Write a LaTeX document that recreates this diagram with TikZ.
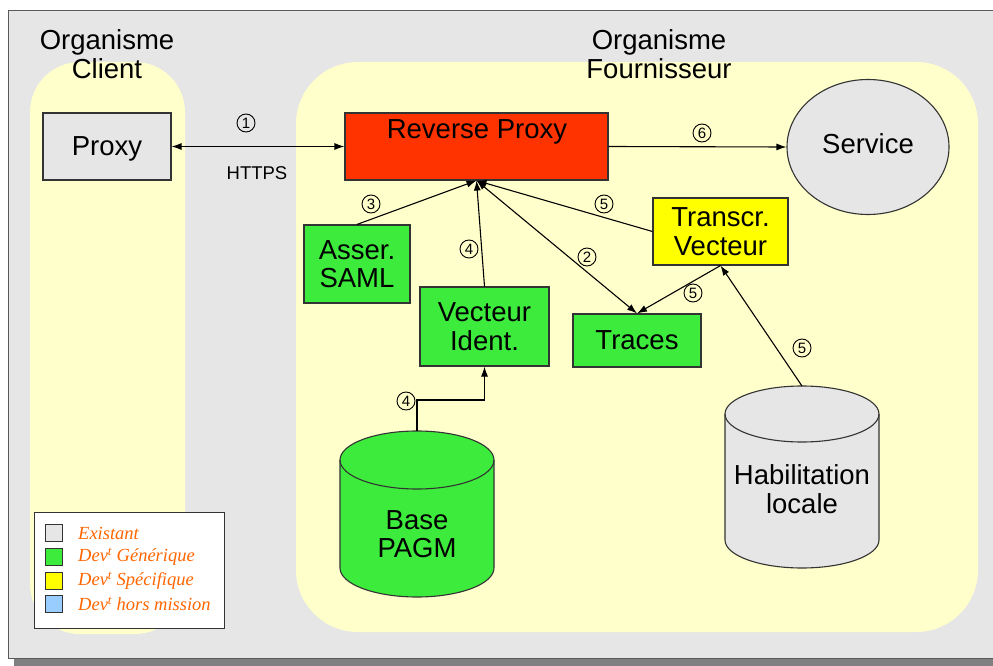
\documentclass[tikz,border=0pt]{standalone}
\usepackage{fontspec}
\setmainfont{Liberation Sans}
\newfontfamily\legfont{Liberation Serif}
\usetikzlibrary{arrows.meta,shapes.geometric}

\definecolor{framegray}{HTML}{E6E6E6}
\definecolor{shadowgray}{HTML}{808080}
\definecolor{zone}{HTML}{FFFFCC}
\definecolor{rpred}{HTML}{FF3300}
\definecolor{devgreen}{HTML}{3DEB3D}
\definecolor{devyellow}{HTML}{FFFF00}
\definecolor{devblue}{HTML}{99CCFF}
\definecolor{legorange}{HTML}{FF6600}
\definecolor{edge}{HTML}{333333}

\tikzset{
  bigtext/.style={font=\fontsize{27.5}{28.5}\selectfont, align=center},
  box/.style={bigtext, draw=edge, line width=1.1pt, inner sep=0pt},
  conn/.style={line width=1.1pt, draw=black, -{Latex[length=10pt,width=7pt]}},
  dconn/.style={conn, {Latex[length=10pt,width=7pt]}-{Latex[length=10pt,width=7pt]}},
  num/.style={circle, draw=black, line width=0.9pt, minimum size=18pt, inner sep=0pt,
    font=\fontsize{15}{15}\selectfont},
  swatch/.style={draw=edge, line width=1pt, minimum size=17pt, inner sep=0pt},
  legtext/.style={font=\legfont\itshape\fontsize{18.5}{20}\selectfont, text=legorange, anchor=west, inner sep=0pt},
}

\begin{document}
\begin{tikzpicture}[x=1pt, y=-1pt]
\useasboundingbox (0,0) rectangle (993,666);

% frame with its shadow
\fill[shadowgray] (14,16) rectangle (1005,666);
\filldraw[fill=framegray, draw=gray!70!black, line width=0.8pt] (8,10) rectangle (1000,658);

% the two organisations
\fill[zone, rounded corners=50pt] (30,62) rectangle (185,634);
\fill[zone, rounded corners=62pt] (296,62) rectangle (978,632);
\node[bigtext] (client) at (107,54) {Organisme\\Client};
\node[bigtext] (fourn) at (659,54) {Organisme\\Fournisseur};

% components
\node[box, fill=framegray, minimum width=128pt, minimum height=67pt] (proxy) at (107,146.5) {};
\node[bigtext] (proxylabel) at (107,149) {Proxy};
\node[box, fill=rpred, minimum width=263pt, minimum height=67pt] (rp) at (476.5,146.5) {};
\node[bigtext] (rplabel) at (477,132) {Reverse Proxy};
\node[box, ellipse, fill=framegray, minimum width=162pt, minimum height=135pt] (svc) at (868,147) {};
\node[bigtext] (svclabel) at (868,144) {Service};
\node[box, fill=devgreen, minimum width=106pt, minimum height=78pt] (saml) at (357,264) {Asser.\\SAML};
\node[box, fill=devgreen, minimum width=129pt, minimum height=79pt] (vi) at (484.5,326.5) {Vecteur\\Ident.};
\node[box, fill=devgreen, minimum width=128pt, minimum height=53pt] (tr) at (637,340.5) {Traces};
\node[box, fill=devyellow, minimum width=135pt, minimum height=67pt] (tv) at (720.5,231.5) {Transcr.\\Vecteur};

% database cylinders (y grows downwards, so angles run clockwise on the page)
\filldraw[fill=devgreen, draw=edge, line width=1.1pt]
  (340,460) -- (340,568) arc[start angle=180, end angle=0, x radius=77, y radius=29]
  -- (494,460) arc[start angle=0, end angle=-180, x radius=77, y radius=29] -- cycle;
\draw[edge, line width=1.1pt] (340,460) arc[start angle=180, end angle=0, x radius=77, y radius=29];
\coordinate (pagmtop) at (417,431);
\node[bigtext] (pagm) at (417,534) {Base\\PAGM};

\filldraw[fill=framegray, draw=edge, line width=1.1pt]
  (725,414) -- (725,540) arc[start angle=180, end angle=0, x radius=77, y radius=28]
  -- (879,414) arc[start angle=0, end angle=-180, x radius=77, y radius=28] -- cycle;
\draw[edge, line width=1.1pt] (725,414) arc[start angle=180, end angle=0, x radius=77, y radius=28];
\coordinate (habtop) at (802,386);
\node[bigtext] (hab) at (802,489) {Habilitation\\locale};

% connectors
\draw[dconn] (proxy.east) -- (rp.west);
\draw[conn] (rp.east) -- (svc.west);
\draw[conn] (saml.north) -- (rp.south);
\draw[conn] (vi.north) -- (rp.south);
\draw[dconn] (rp.south) -- (tr.north);
\draw[conn] (tv.west) -- (rp.south);
\draw[conn] (tv.south) -- (tr.north);
\draw[conn] (habtop) -- (tv.south);
\coordinate (bend) at (417,400);
\draw[conn] (pagmtop) -- (bend) -| (vi.south);

% step numbers
\node[num] (n1) at (246,123) {1};
\node[font=\fontsize{18.5}{20}\selectfont] (https) at (257,173) {HTTPS};
\node[num] (n6) at (702,133) {6};
\node[num] (n3) at (371,204) {3};
\node[num] (n4a) at (469,249) {4};
\node[num] (n2) at (587,257) {2};
\node[num] (n5a) at (604,204) {5};
\node[num] (n5b) at (693,293) {5};
\node[num] (n5c) at (802,348) {5};
\node[num] (n4b) at (406,401) {4};

% legend
\node[draw=edge, fill=white, line width=1pt, minimum width=190pt, minimum height=116pt, inner sep=0pt] (legend) at (129,570) {};
\node[swatch, fill=framegray] (k1) at (54,533) {};
\node[swatch, fill=devgreen] (k2) at (54,557) {};
\node[swatch, fill=devyellow] (k3) at (54,581) {};
\node[swatch, fill=devblue] (k4) at (54,604) {};
\node[legtext] (l1) at (78,533) {Existant};
\node[legtext] (l2) at (78,557) {Dev\textsuperscript{t} Générique};
\node[legtext] (l3) at (78,581) {Dev\textsuperscript{t} Spécifique};
\node[legtext] (l4) at (78,604) {Dev\textsuperscript{t} hors mission};
\end{tikzpicture}
\end{document}
